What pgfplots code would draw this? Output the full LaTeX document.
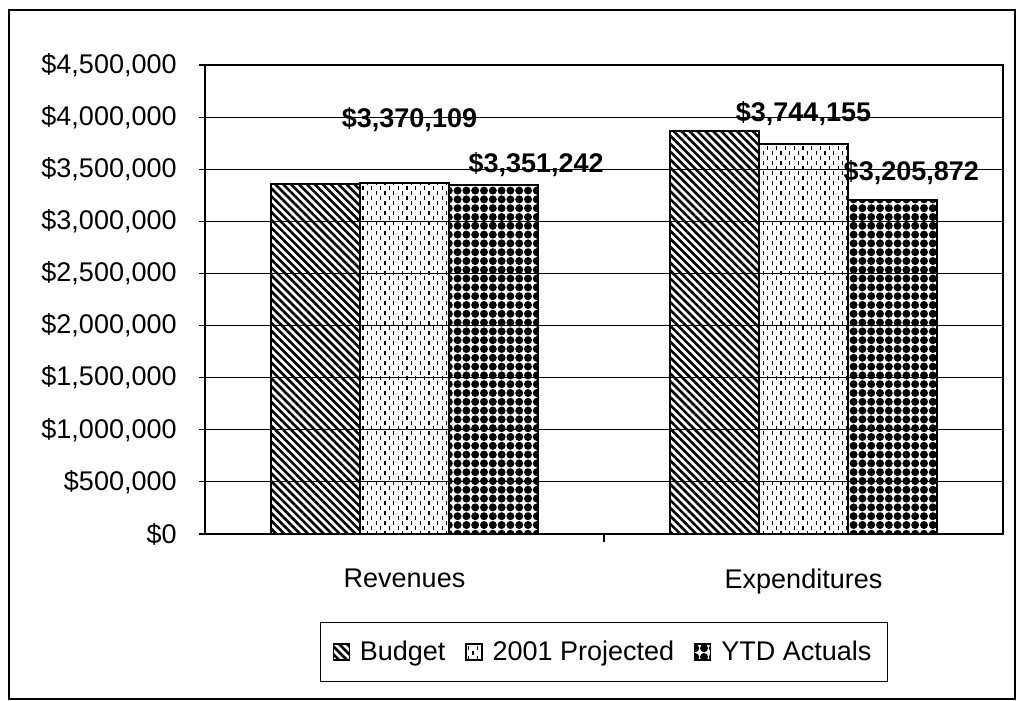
\documentclass[border=0pt]{standalone}
\usepackage{fontspec}
\setmainfont{Liberation Sans}
\usepackage{pgfplots}
\pgfplotsset{compat=1.18}
\usepackage{pgfplotstable}
\usetikzlibrary{patterns.meta}

% vertical dashes for the projected bars
\tikzdeclarepattern{
  name=vdashes, type=uncolored,
  bottom left={(-0.1pt,-0.1pt)}, top right={(4.5pt,5.1pt)},
  tile size={(4.4pt,5pt)},
  code={\path[draw, line width=0.6pt] (1.1pt,0.4pt) -- (1.1pt,2.4pt) (3.3pt,2.9pt) -- (3.3pt,4.9pt);}
}

\newcommand{\chartfont}{\fontsize{13.5}{16}\selectfont}

% x: category, y: value, dx/dy: label offset in pt
\pgfplotstableread{
x y dx dy
0 3355000 0 0
1 3868000 0 0
}\budget
\pgfplotstableread{
x y dx dy
0 3370109 2.5 31.5
1 3744155 0 15.3
}\projected
\pgfplotstableread{
x y dx dy
0 3351242 21.4 10.1
1 3205872 9.5 13.8
}\ytd

\begin{document}
\begin{tikzpicture}
\useasboundingbox (-102.5pt,-83.5pt) rectangle (406pt,267pt);
\draw[line width=0.6pt] (-98pt,-82.5pt) rectangle (405pt,262pt);
\begin{axis}[
    at={(0,0)}, anchor=south west,
    scale only axis, width=399pt, height=234.5pt,
    ybar=0pt, bar width=44.4pt,
    xmin=-0.5, xmax=1.5, ymin=0, ymax=4500000,
    xtick={0,1}, xticklabels={Revenues,Expenditures},
    xtick pos=bottom, ytick pos=left,
    x tick style={draw=none},
    extra x ticks={0.5}, extra x tick labels={},
    extra x tick style={grid=none, x tick style={draw=black, line width=0.6pt}, tick align=outside, major tick length=4pt},
    xticklabel style={font=\chartfont, anchor=north, inner sep=0pt, yshift=-14.5pt},
    ytick={0,500000,...,4500000},
    scaled y ticks=false,
    yticklabel={\$\pgfmathprintnumber[fixed,precision=0,1000 sep={,}]{\tick}},
    yticklabel style={font=\chartfont, anchor=east, inner sep=0pt, xshift=-11pt},
    /pgf/number format/assume math mode=true,
    y tick style={black, line width=0.6pt},
    tick align=center, major tick length=6pt,
    ymajorgrids, major grid style={black, line width=0.4pt},
    axis line style={black, line width=0.9pt},
    legend style={at={(0.5,-0.2516)}, anchor=center, draw=black, line width=0.6pt,
        font=\chartfont, inner xsep=6pt, inner ysep=7pt,
        /tikz/every odd column/.append style={column sep=3pt},
        /tikz/every even column/.append style={column sep=8pt}},
    legend columns=3,
    legend image code/.code={\draw[#1, line width=0.6pt] (0pt,-4pt) rectangle (8pt,4pt);},
    every node near coord/.append style={font=\chartfont\bfseries, anchor=center},
]
\addplot[draw=black, line width=1pt, pattern={Lines[angle=-45,distance=2.8pt,line width=1.3pt]}]
    table[x=x, y=y] {\budget};
\addlegendentry{Budget}
\addplot[draw=black, line width=1pt, pattern=vdashes,
    nodes near coords={\$\pgfmathprintnumber[fixed,precision=0,1000 sep={,}]{\pgfplotspointmeta}},
    visualization depends on={\thisrow{dx} \as \dx},
    visualization depends on={\thisrow{dy} \as \dy},
    every node near coord/.append style={xshift=\dx pt, yshift=\dy pt}]
    table[x=x, y=y] {\projected};
\addlegendentry{2001 Projected}
\addplot[draw=black, line width=1pt, pattern={Dots[distance=4.4pt,radius=2pt]},
    nodes near coords={\$\pgfmathprintnumber[fixed,precision=0,1000 sep={,}]{\pgfplotspointmeta}},
    visualization depends on={\thisrow{dx} \as \dx},
    visualization depends on={\thisrow{dy} \as \dy},
    every node near coord/.append style={xshift=\dx pt, yshift=\dy pt}]
    table[x=x, y=y] {\ytd};
\addlegendentry{YTD Actuals}
\end{axis}
\end{tikzpicture}
\end{document}
